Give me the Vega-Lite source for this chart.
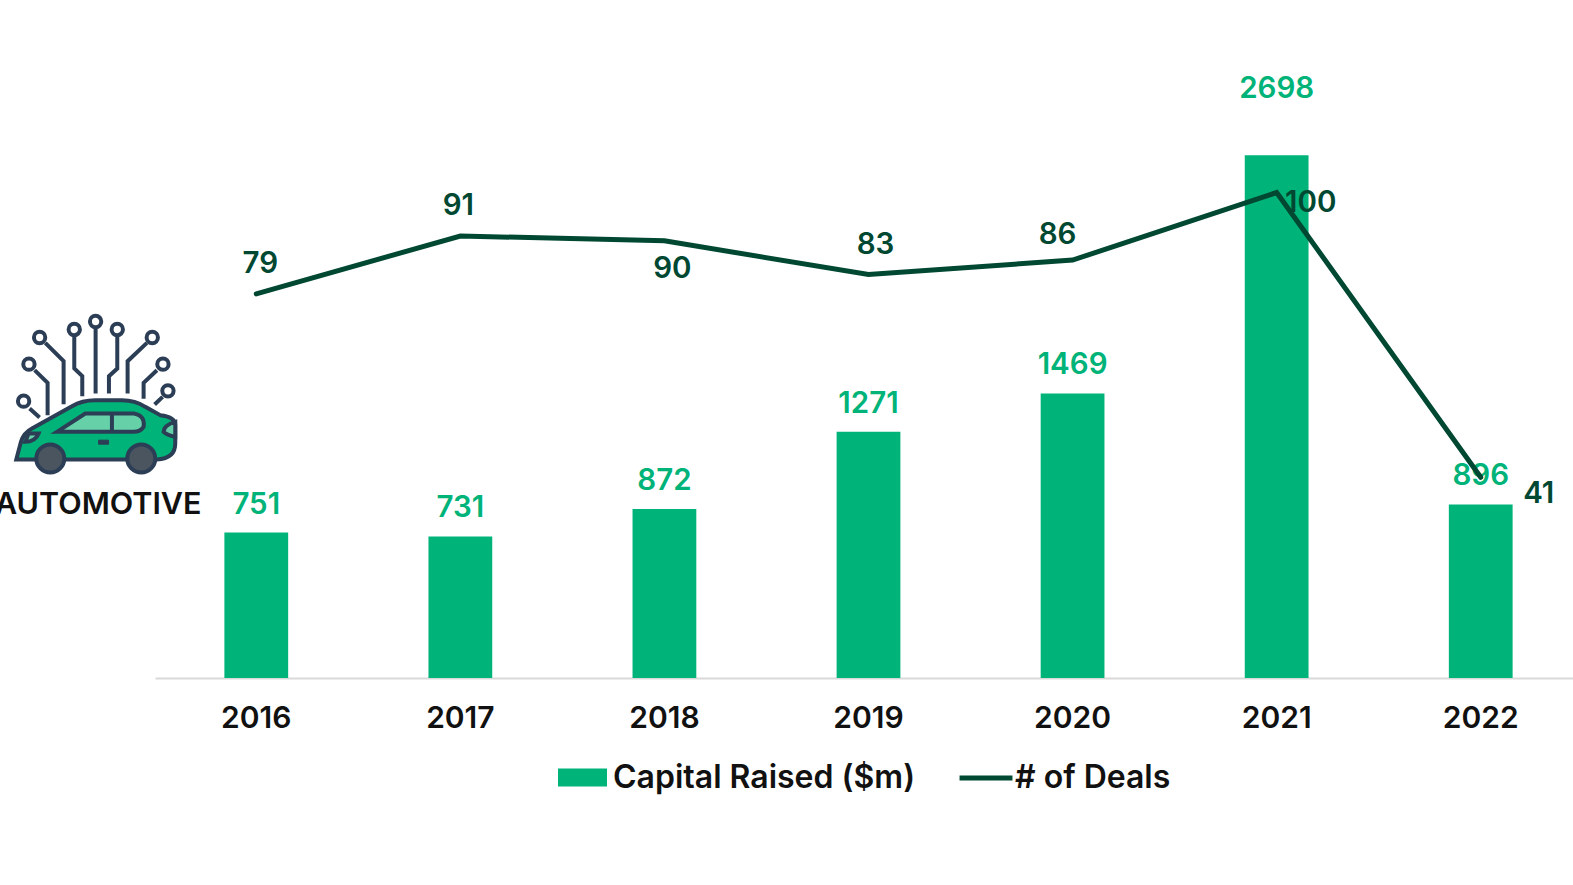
{
  "$schema": "https://vega.github.io/schema/vega-lite/v6.json",
  "width": 1427,
  "height": 678,
  "padding": {"left": 155, "top": 0, "right": 0, "bottom": 207},
  "autosize": "none",
  "background": "white",
  "title": {"text": "AUTOMOTIVE", "anchor": "start", "frame": "group", "orient": "top", "dx": -160, "dy": 524, "font": "Inter", "fontSize": 30.5, "fontWeight": 600, "color": "#111111"},
  "data": {"values": [
    {"year": "2016", "capital": 751, "deals": 79},
    {"year": "2017", "capital": 731, "deals": 91},
    {"year": "2018", "capital": 872, "deals": 90},
    {"year": "2019", "capital": 1271, "deals": 83},
    {"year": "2020", "capital": 1469, "deals": 86},
    {"year": "2021", "capital": 2698, "deals": 100},
    {"year": "2022", "capital": 896, "deals": 41}
  ]},
  "encoding": {
    "x": {"field": "year", "type": "nominal", "sort": null, "title": null,
      "scale": {"paddingInner": 0.6875, "paddingOuter": 0.34},
      "axis": {"labelAngle": 0, "labelFont": "Inter", "labelFontSize": 30, "labelFontWeight": 600, "labelColor": "#111111", "labelPadding": 25, "ticks": false, "domainColor": "#D9D9D9", "domainWidth": 2, "grid": false}}
  },
  "layer": [
    {
      "encoding": {"y": {"field": "capital", "type": "quantitative", "scale": {"domain": [0, 3500]}, "axis": null}},
      "layer": [
        {"mark": {"type": "bar"},
         "encoding": {
           "color": {"datum": "Capital Raised ($m)", "type": "nominal", "scale": {"domain": ["Capital Raised ($m)"], "range": ["#00B379"]},
             "legend": {"orient": "none", "legendX": 403, "legendY": 753, "title": null, "labelFont": "Inter", "labelFontSize": 32, "labelFontWeight": 600, "labelColor": "#111111", "labelLimit": 500, "symbolType": "M-1,-0.37H1V0.37H-1Z", "symbolSize": 2401, "symbolStrokeWidth": 0, "labelOffset": 6}}}},
        {"transform": [{"filter": "datum.year !== '2021'"}],
         "mark": {"type": "text", "dy": -28, "font": "Inter", "fontSize": 29.5, "fontWeight": 600, "color": "#00B379"},
         "encoding": {"text": {"field": "capital", "type": "quantitative"}}},
        {"transform": [{"filter": "datum.year === '2021'"}],
         "mark": {"type": "text", "dy": -66, "font": "Inter", "fontSize": 29.5, "fontWeight": 600, "color": "#00B379"},
         "encoding": {"text": {"field": "capital", "type": "quantitative"}}},
        {"transform": [{"filter": "datum.year === '2016'"}],
         "encoding": {"y": {"datum": 1460, "type": "quantitative"}},
         "layer": [
           {"mark": {"type": "point", "xOffset": -160, "opacity": 1, "size": 0.4444, "filled": false, "fill": null, "stroke": "#2C3E55", "strokeWidth": 4, "shape": "M-2,-221L-2,-5M-66,-185L-66,-80L-42,-57L-42,3M63,-185L63,-80L38,-57L38,-5M-153,-157L-98,-102L-98,27M152,-157L94,-102L94,-5M-185,-75L-146,-37L-146,60M182,-75L142,-37L142,11M-200,40L-170,67M199,5L175,28"}},
           {"mark": {"type": "point", "xOffset": -160, "opacity": 1, "size": 0.4444, "filled": true, "fill": "#FFFFFF", "stroke": "#2C3E55", "strokeWidth": 4, "shape": "M-19,-221A17,17,0,1,1,15,-221A17,17,0,1,1,-19,-221ZM-83,-197A17,17,0,1,1,-49,-197A17,17,0,1,1,-83,-197ZM46,-197A17,17,0,1,1,80,-197A17,17,0,1,1,46,-197ZM-187,-173A17,17,0,1,1,-153,-173A17,17,0,1,1,-187,-173ZM151,-173A17,17,0,1,1,185,-173A17,17,0,1,1,151,-173ZM-219,-93A17,17,0,1,1,-185,-93A17,17,0,1,1,-219,-93ZM183,-93A17,17,0,1,1,217,-93A17,17,0,1,1,183,-93ZM-235,18A17,17,0,1,1,-201,18A17,17,0,1,1,-235,18ZM198,-13A17,17,0,1,1,232,-13A17,17,0,1,1,198,-13Z"}},
           {"mark": {"type": "point", "xOffset": -160, "opacity": 1, "size": 0.4444, "filled": true, "fill": "#00B379", "stroke": "#2C3E55", "strokeWidth": 4, "shape": "M-240,193L-226,140Q-218,113,-193,100L-73,33Q-43,15,-3,15L77,15Q117,15,147,35L192,60Q237,65,237,90L237,145Q237,190,182,193Z"}},
           {"mark": {"type": "point", "xOffset": -160, "opacity": 1, "size": 0.4444, "filled": true, "fill": "#66D1A8", "stroke": "#2C3E55", "strokeWidth": 4, "shape": "M-118,110L-33,55L112,55Q147,60,142,95Q132,110,112,110ZM47,55L47,105M237,80Q202,90,202,110Q212,120,237,125ZM-203,115L-173,115Q-183,140,-213,140Z"}},
           {"mark": {"type": "point", "xOffset": -160, "opacity": 1, "size": 0.4444, "filled": true, "fill": "#2C3E55", "stroke": "#2C3E55", "strokeWidth": 1, "shape": "M7,135L37,135L37,147L7,147Z"}},
           {"mark": {"type": "point", "xOffset": -160, "opacity": 1, "size": 0.4444, "filled": true, "fill": "#4A5560", "stroke": "#2C3E55", "strokeWidth": 4, "shape": "M-180,190A42,42,0,1,1,-96,190A42,42,0,1,1,-180,190ZM93,190A42,42,0,1,1,177,190A42,42,0,1,1,93,190Z"}}
         ]}
      ]
    },
    {
      "encoding": {"y": {"field": "deals", "type": "quantitative", "scale": {"domain": [-0.6, 139.9]}, "axis": null}},
      "layer": [
        {"mark": {"type": "line", "strokeWidth": 5, "strokeCap": "round"},
         "encoding": {"stroke": {"datum": "# of Deals", "type": "nominal", "scale": {"domain": ["# of Deals"], "range": ["#004831"]},
            "legend": {"orient": "none", "legendX": 802, "legendY": 749, "title": null, "labelFont": "Inter", "labelFontSize": 32, "labelFontWeight": 600, "labelColor": "#111111", "labelLimit": 500, "symbolType": "stroke", "symbolSize": 2800, "symbolStrokeWidth": 5, "labelOffset": 0}}}},
        {"transform": [{"filter": "datum.year === '2016'"}], "mark": {"type": "text", "dx": 4, "dy": -30, "font": "Inter", "fontSize": 29.5, "fontWeight": 600, "color": "#004831"}, "encoding": {"text": {"field": "deals", "type": "quantitative"}}},
        {"transform": [{"filter": "datum.year === '2017'"}], "mark": {"type": "text", "dx": -2, "dy": -30, "font": "Inter", "fontSize": 29.5, "fontWeight": 600, "color": "#004831"}, "encoding": {"text": {"field": "deals", "type": "quantitative"}}},
        {"transform": [{"filter": "datum.year === '2018'"}], "mark": {"type": "text", "dx": 8, "dy": 28, "font": "Inter", "fontSize": 29.5, "fontWeight": 600, "color": "#004831"}, "encoding": {"text": {"field": "deals", "type": "quantitative"}}},
        {"transform": [{"filter": "datum.year === '2019'"}], "mark": {"type": "text", "dx": 7, "dy": -30, "font": "Inter", "fontSize": 29.5, "fontWeight": 600, "color": "#004831"}, "encoding": {"text": {"field": "deals", "type": "quantitative"}}},
        {"transform": [{"filter": "datum.year === '2020'"}], "mark": {"type": "text", "dx": -15, "dy": -25, "font": "Inter", "fontSize": 29.5, "fontWeight": 600, "color": "#004831"}, "encoding": {"text": {"field": "deals", "type": "quantitative"}}},
        {"transform": [{"filter": "datum.year === '2021'"}], "mark": {"type": "text", "dx": 34, "dy": 10, "font": "Inter", "fontSize": 29.5, "fontWeight": 600, "color": "#004831"}, "encoding": {"text": {"field": "deals", "type": "quantitative"}}},
        {"transform": [{"filter": "datum.year === '2022'"}], "mark": {"type": "text", "dx": 58, "dy": 17, "font": "Inter", "fontSize": 29.5, "fontWeight": 600, "color": "#004831"}, "encoding": {"text": {"field": "deals", "type": "quantitative"}}}
      ]
    }
  ],
  "resolve": {"scale": {"y": "independent"}},
  "config": {"view": {"stroke": null}}
}
